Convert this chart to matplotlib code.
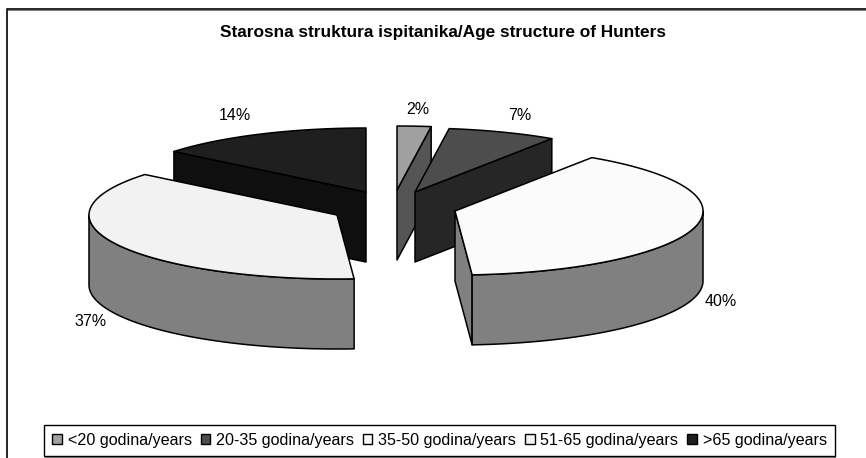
import numpy as np
import matplotlib
matplotlib.use("Agg")
import matplotlib.pyplot as plt
from matplotlib.patches import Patch

categories = ["<20 godina/years", "20-35 godina/years", "35-50 godina/years",
              "51-65 godina/years", ">65 godina/years"]
values = [2.2, 7.1, 39.6, 37.0, 14.1]
pct_labels = ["2%", "7%", "40%", "37%", "14%"]
top_colors = ["#a0a0a0", "#4d4d4d", "#fbfbfb", "#f2f2f2", "#1f1f1f"]
side_colors = ["#555555", "#262626", "#808080", "#808080", "#0f0f0f"]
title = "Starosna struktura ispitanika/Age structure of Hunters"

plt.rcParams['font.family'] = ['Liberation Sans', 'DejaVu Sans']

W, H = 866, 458
fig = plt.figure(figsize=(W / 100, H / 100), dpi=100)
ax = fig.add_axes([0, 0, 1, 1])
ax.set_xlim(0, W)
ax.set_ylim(H, 0)
ax.axis('off')

# pie shape in pixels, each slice has its own exploded apex
rx, ry, depth = 248, 64, 70
apex = [(397, 190), (415, 192), (455, 211), (337, 215), (366, 192)]
label_pos = [(418, 110), (520, 116), (721, 301), (91, 322), (235, 116)]
draw_order = [4, 0, 1, 2, 3]

ends = np.cumsum(values) / sum(values) * 2 * np.pi
starts = np.concatenate(([0], ends[:-1]))


def rim(cx, cy, a0, a1, dy=0):
    t = np.linspace(a0, a1, max(int((a1 - a0) * 60), 2))
    return cx + rx * np.sin(t), cy - ry * np.cos(t) + dy


def face(xs, ys, color):
    ax.fill(xs, ys, facecolor=color, edgecolor='black', linewidth=1.1, joinstyle='round')


for i in draw_order:
    cx, cy = apex[i]
    a0, a1 = starts[i], ends[i]
    side = side_colors[i]

    # flat cut faces that look towards the viewer
    if np.sin(a0) < 0:
        x0, y0 = rim(cx, cy, a0, a0)
        face([x0[0], cx, cx, x0[0]], [y0[0], cy, cy + depth, y0[0] + depth], side)
    if np.sin(a1) > 0:
        x1, y1 = rim(cx, cy, a1, a1)
        face([cx, x1[0], x1[0], cx], [cy, y1[0], y1[0] + depth, cy + depth], side)

    # outer wall, only the part on the front half of the ellipse
    f0, f1 = max(a0, np.pi / 2), min(a1, 3 * np.pi / 2)
    if f1 > f0:
        xa, ya = rim(cx, cy, f0, f1)
        face(np.concatenate((xa, xa[::-1])), np.concatenate((ya, ya[::-1] + depth)), side)

    # top of the slice
    xt, yt = rim(cx, cy, a0, a1)
    face(np.concatenate(([cx], xt)), np.concatenate(([cy], yt)), top_colors[i])

for lab, (lx, ly) in zip(pct_labels, label_pos):
    ax.text(lx, ly, lab, fontsize=11.5, ha='center', va='center', color='black')

ax.text(443, 32, title, fontsize=12.4, fontweight='bold', ha='center', va='center')

# chart frame: only top and left, the crop cuts the rest
ax.plot([W, 7, 7], [8.5, 8.5, H], color='black', linewidth=1.2)
ax.plot([8, W], [9.7, 9.7], color='#808080', linewidth=0.8)

# grey shadow under the legend box
ax.plot([46, 835], [457.3, 457.3], color='#808080', linewidth=1.6)

handles = [Patch(facecolor=c, edgecolor='black', linewidth=1.0) for c in top_colors]
leg = ax.legend(handles, categories, ncol=5, loc='center', bbox_to_anchor=(439.5 / W, 1 - 440.5 / H),
                fontsize=11.6, frameon=True, fancybox=False, edgecolor='black', framealpha=1,
                handlelength=0.6, handleheight=0.6, handletextpad=0.36, columnspacing=0.55,
                borderpad=0.5, borderaxespad=0)
leg.get_frame().set_linewidth(1.0)

fig.savefig("out.png", dpi=100)
